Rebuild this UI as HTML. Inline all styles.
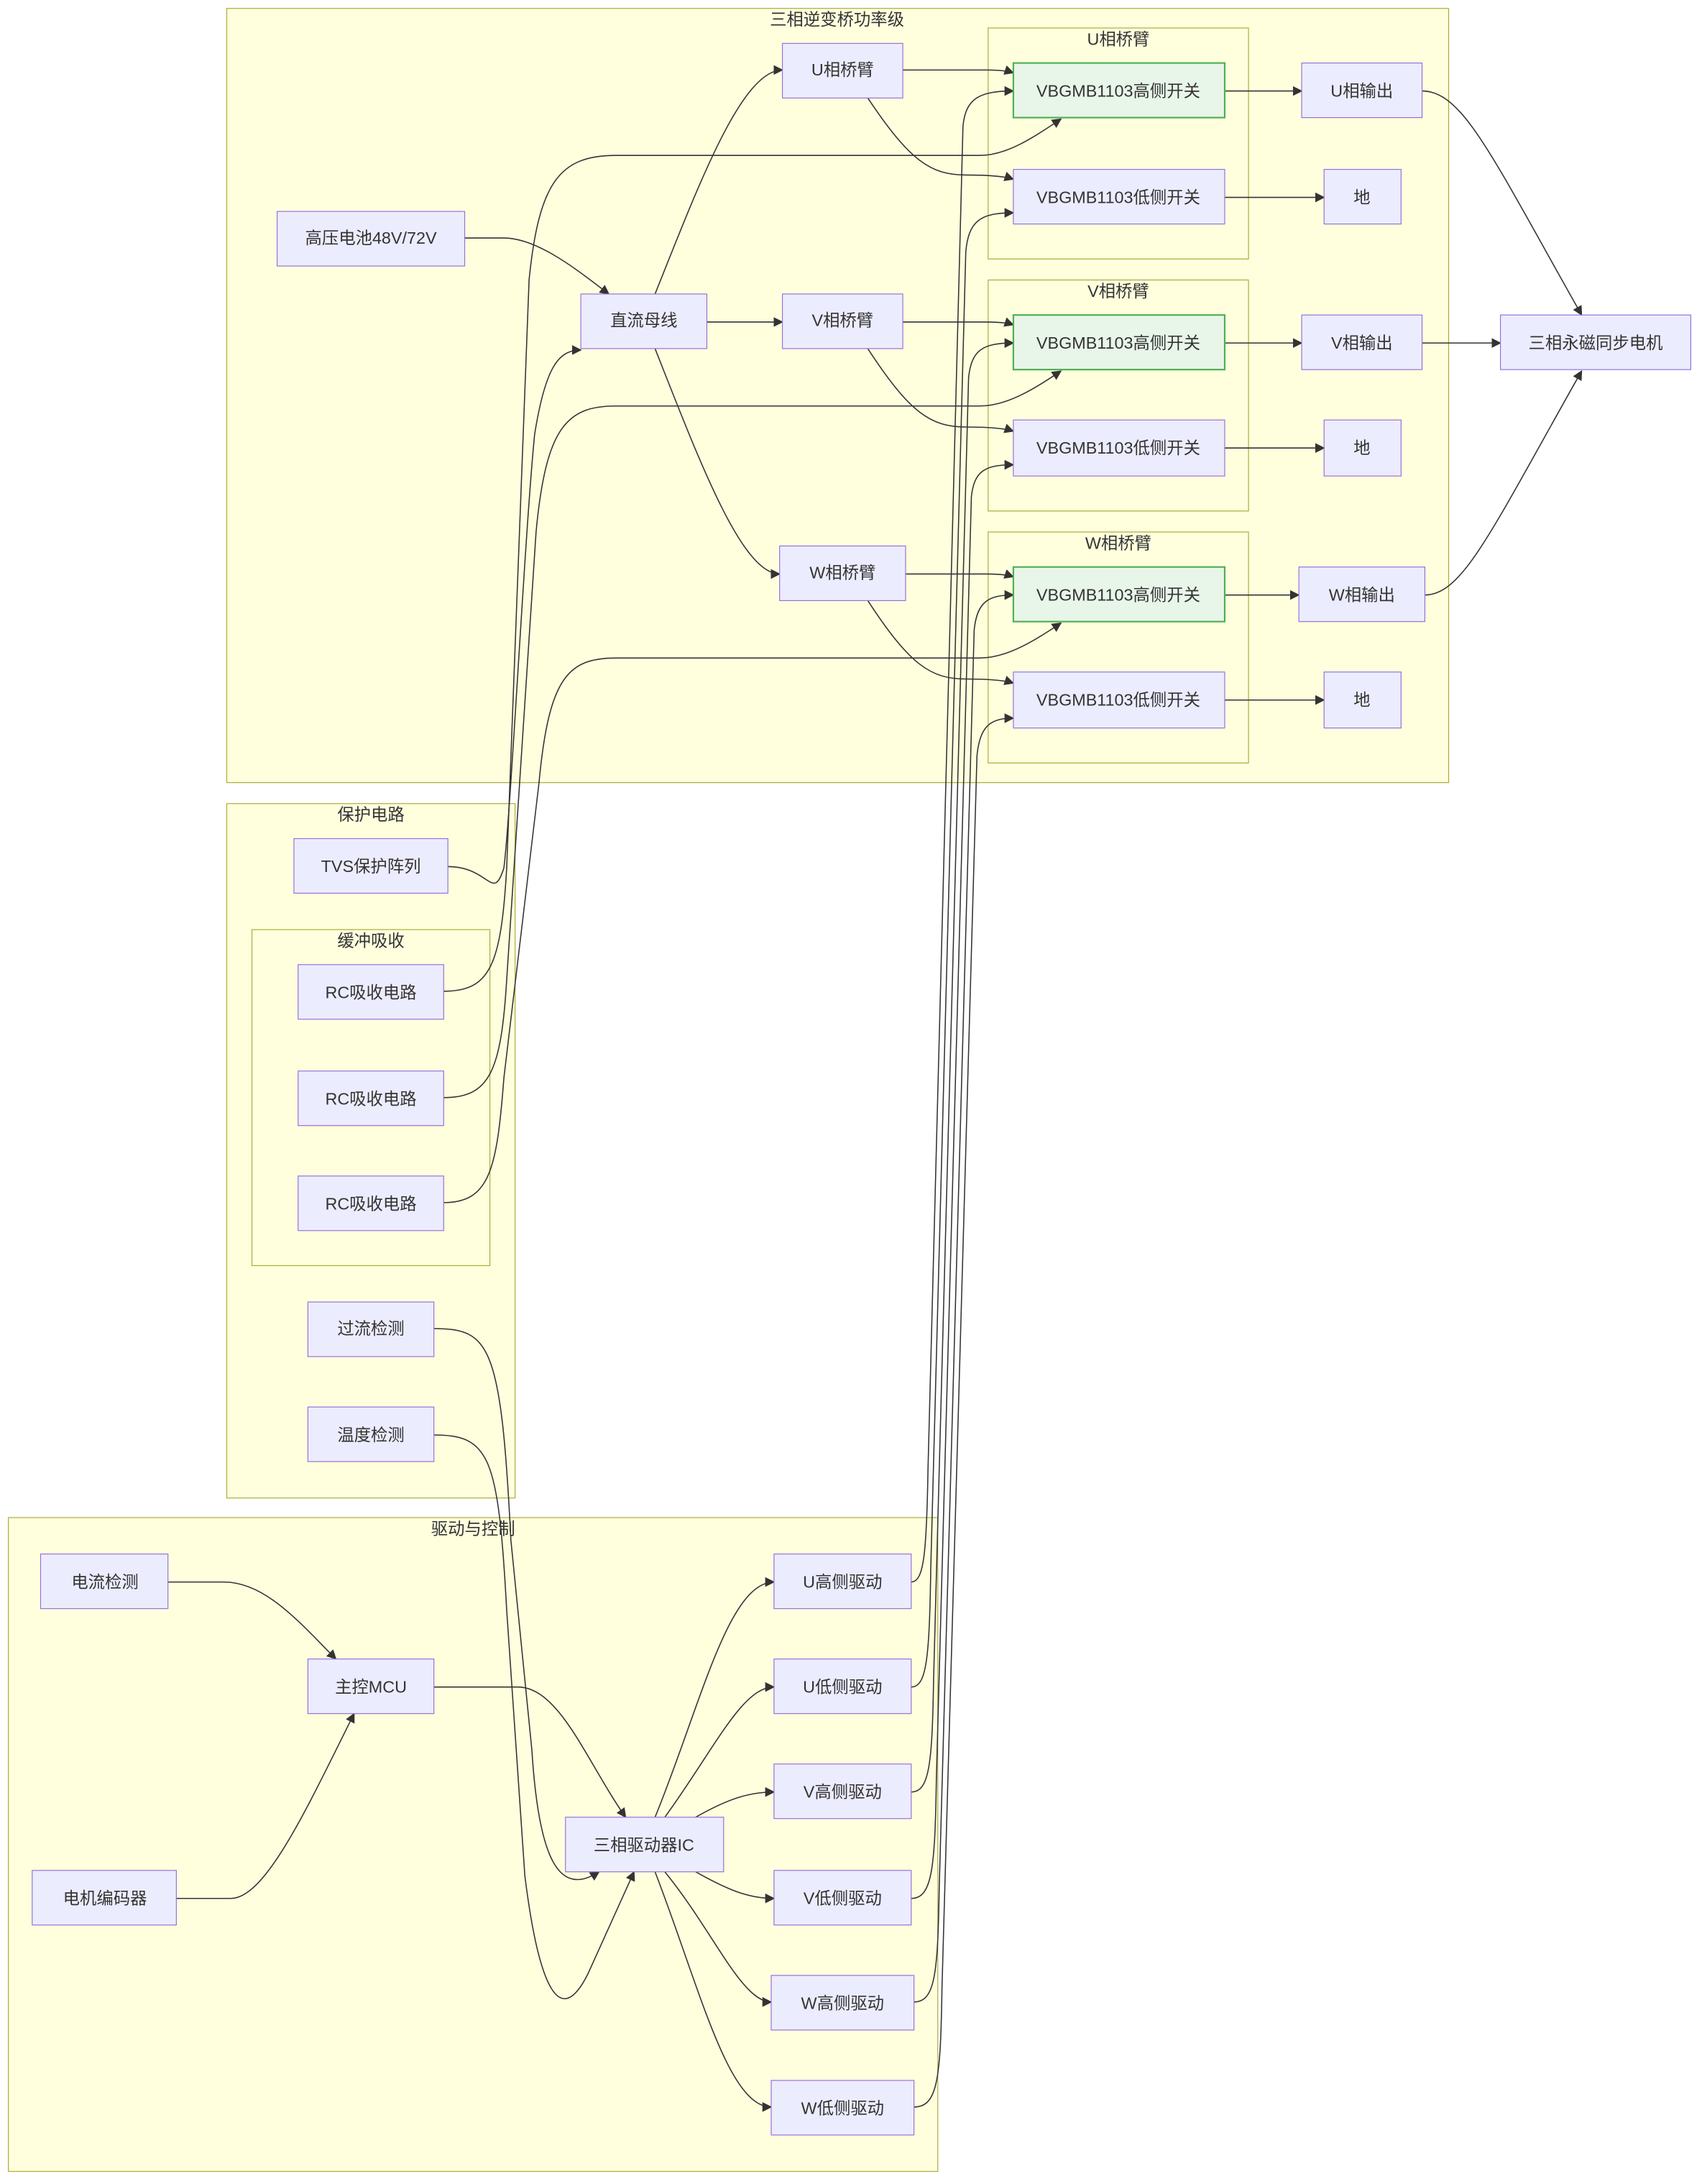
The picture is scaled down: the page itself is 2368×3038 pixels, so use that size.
<!DOCTYPE html>
<html><head><meta charset="utf-8"><style>
html,body{margin:0;padding:0;background:#fff;}
svg{display:block;}
text{font-family:"Liberation Sans","Noto Sans CJK SC",sans-serif;fill:#333;font-size:12px;}
.n{fill:#ECECFF;stroke:#9370DB;stroke-width:0.6;}
.g{fill:#e8f5e9;stroke:#4caf50;stroke-width:1.1;}
.c{fill:#ffffde;stroke:#aaaa33;stroke-width:0.6;}
.e{fill:none;stroke:#333;stroke-width:0.8;marker-end:url(#a);}
</style></head><body>
<svg width="2368" height="3038" viewBox="0 0 1216 1560" preserveAspectRatio="none" xmlns="http://www.w3.org/2000/svg">
<defs><marker id="a" viewBox="0 0 10 10" refX="9" refY="5" markerWidth="7" markerHeight="7" markerUnits="userSpaceOnUse" orient="auto"><path d="M0,0L10,5L0,10z" fill="#333"/></marker></defs>
<!-- clusters -->
<rect class="c" x="162" y="6" width="873" height="553"/>
<text x="598" y="18" text-anchor="middle">三相逆变桥功率级</text>
<rect class="c" x="706" y="20" width="186" height="165"/><text x="799" y="32" text-anchor="middle">U相桥臂</text>
<rect class="c" x="706" y="200" width="186" height="165"/><text x="799" y="212" text-anchor="middle">V相桥臂</text>
<rect class="c" x="706" y="380" width="186" height="165"/><text x="799" y="392" text-anchor="middle">W相桥臂</text>
<rect class="c" x="162" y="574" width="206" height="496"/><text x="265" y="586" text-anchor="middle">保护电路</text>
<rect class="c" x="180" y="664" width="170" height="240"/><text x="265" y="676" text-anchor="middle">缓冲吸收</text>
<rect class="c" x="6" y="1084" width="664" height="467"/><text x="338" y="1096" text-anchor="middle">驱动与控制</text>
<!-- edges -->
<path class="e" d="M332,170 L360,170 C385,170 415,195 435,210"/>
<path class="e" d="M468,210 C500,130 530,50 559,50"/>
<path class="e" d="M505,230 L559,230"/>
<path class="e" d="M468,249 C500,330 530,410 557,410"/>
<path class="e" d="M645,50 L705,50 Q718,50 724,52"/>
<path class="e" d="M620,70 C650,115 665,125 690,125 Q715,125 724,128"/>
<path class="e" d="M645,230 L705,230 Q718,230 724,232"/>
<path class="e" d="M620,249 C650,295 665,305 690,305 Q715,305 724,308"/>
<path class="e" d="M647,410 L705,410 Q718,410 724,412"/>
<path class="e" d="M620,429 C650,475 665,485 690,485 Q715,485 724,488"/>
<path class="e" d="M875,65 L930,65"/><path class="e" d="M875,141 L946,141"/>
<path class="e" d="M875,245 L930,245"/><path class="e" d="M875,320 L946,320"/>
<path class="e" d="M875,425 L928,425"/><path class="e" d="M875,500 L946,500"/>
<path class="e" d="M1016,65 C1045,65 1065,110 1130,225"/>
<path class="e" d="M1016,245 L1072,245"/>
<path class="e" d="M1018,425 C1045,425 1065,380 1130,265"/>
<path class="e" d="M320,619 C350,619 352,645 360,620 C365,580 375,380 382,310 C390,260 400,250 415,250"/>
<path class="e" d="M317,708 C350,708 358,690 362,620 L378,200 C385,130 400,111 440,111 L700,111 C720,111 740,97 758,85"/>
<path class="e" d="M317,784 C350,784 358,765 362,700 L383,380 C390,305 405,290 440,290 L700,290 C720,290 740,277 758,265"/>
<path class="e" d="M317,859 C350,859 355,835 360,770 L385,560 C392,485 405,470 440,470 L700,470 C720,470 740,457 758,445"/>
<path class="e" d="M310,949 C350,949 358,960 365,1100 L380,1250 C385,1330 400,1355 428,1337"/>
<path class="e" d="M310,1025 C350,1025 356,1040 362,1150 L375,1340 C385,1420 400,1450 420,1410 L453,1337"/>
<path class="e" d="M120,1130 L160,1130 C190,1130 215,1160 240,1185"/>
<path class="e" d="M126,1356 L165,1356 C190,1356 220,1290 253,1224"/>
<path class="e" d="M310,1205 L370,1205 C400,1205 420,1260 447,1298"/>
<path class="e" d="M468,1298 C500,1220 520,1130 553,1130"/>
<path class="e" d="M475,1298 C510,1250 530,1205 553,1205"/>
<path class="e" d="M497,1298 C520,1285 535,1280 553,1280"/>
<path class="e" d="M497,1337 C520,1350 535,1356 553,1356"/>
<path class="e" d="M475,1337 C510,1380 530,1430 551,1430"/>
<path class="e" d="M468,1337 C500,1420 520,1505 551,1505"/>
<path class="e" d="M651,1130 C660,1130 662,1110 663,1050 L688,90 C690,70 700,65 724,65"/>
<path class="e" d="M651,1205 C662,1205 664,1185 665,1120 L690,180 C692,158 700,152 724,152"/>
<path class="e" d="M651,1280 C664,1280 666,1260 667,1200 L692,270 C694,250 702,245 724,245"/>
<path class="e" d="M651,1356 C666,1356 668,1335 669,1270 L694,355 C696,336 704,332 724,332"/>
<path class="e" d="M653,1430 C668,1430 670,1410 671,1350 L696,450 C698,430 706,425 724,425"/>
<path class="e" d="M653,1505 C670,1505 672,1485 673,1420 L698,540 C700,518 708,513 724,513"/>
<!-- nodes -->
<g text-anchor="middle">
<rect class="n" x="198" y="151" width="134" height="39"/><text x="265" y="174">高压电池48V/72V</text>
<rect class="n" x="415" y="210" width="90" height="39"/><text x="460" y="233">直流母线</text>
<rect class="n" x="559" y="31" width="86" height="39"/><text x="602" y="54">U相桥臂</text>
<rect class="n" x="559" y="210" width="86" height="39"/><text x="602" y="233">V相桥臂</text>
<rect class="n" x="557" y="390" width="90" height="39"/><text x="602" y="413">W相桥臂</text>
<rect class="g" x="724" y="45" width="151" height="39"/><text x="799" y="69">VBGMB1103高侧开关</text>
<rect class="n" x="724" y="121" width="151" height="39"/><text x="799" y="145">VBGMB1103低侧开关</text>
<rect class="g" x="724" y="225" width="151" height="39"/><text x="799" y="249">VBGMB1103高侧开关</text>
<rect class="n" x="724" y="300" width="151" height="40"/><text x="799" y="324">VBGMB1103低侧开关</text>
<rect class="g" x="724" y="405" width="151" height="39"/><text x="799" y="429">VBGMB1103高侧开关</text>
<rect class="n" x="724" y="480" width="151" height="40"/><text x="799" y="504">VBGMB1103低侧开关</text>
<rect class="n" x="930" y="45" width="86" height="39"/><text x="973" y="69">U相输出</text>
<rect class="n" x="946" y="121" width="55" height="39"/><text x="973" y="145">地</text>
<rect class="n" x="930" y="225" width="86" height="39"/><text x="973" y="249">V相输出</text>
<rect class="n" x="946" y="300" width="55" height="40"/><text x="973" y="324">地</text>
<rect class="n" x="928" y="405" width="90" height="39"/><text x="973" y="429">W相输出</text>
<rect class="n" x="946" y="480" width="55" height="40"/><text x="973" y="504">地</text>
<rect class="n" x="1072" y="225" width="136" height="39"/><text x="1140" y="249">三相永磁同步电机</text>
<rect class="n" x="210" y="599" width="110" height="39"/><text x="265" y="623">TVS保护阵列</text>
<rect class="n" x="213" y="689" width="104" height="39"/><text x="265" y="713">RC吸收电路</text>
<rect class="n" x="213" y="765" width="104" height="39"/><text x="265" y="789">RC吸收电路</text>
<rect class="n" x="213" y="840" width="104" height="39"/><text x="265" y="864">RC吸收电路</text>
<rect class="n" x="220" y="930" width="90" height="39"/><text x="265" y="953">过流检测</text>
<rect class="n" x="220" y="1005" width="90" height="39"/><text x="265" y="1029">温度检测</text>
<rect class="n" x="29" y="1110" width="91" height="39"/><text x="75" y="1134">电流检测</text>
<rect class="n" x="220" y="1185" width="90" height="39"/><text x="265" y="1209">主控MCU</text>
<rect class="n" x="23" y="1336" width="103" height="39"/><text x="75" y="1360">电机编码器</text>
<rect class="n" x="404" y="1298" width="113" height="39"/><text x="460" y="1322">三相驱动器IC</text>
<rect class="n" x="553" y="1110" width="98" height="39"/><text x="602" y="1134">U高侧驱动</text>
<rect class="n" x="553" y="1185" width="98" height="39"/><text x="602" y="1209">U低侧驱动</text>
<rect class="n" x="553" y="1260" width="98" height="39"/><text x="602" y="1284">V高侧驱动</text>
<rect class="n" x="553" y="1336" width="98" height="39"/><text x="602" y="1360">V低侧驱动</text>
<rect class="n" x="551" y="1411" width="102" height="39"/><text x="602" y="1435">W高侧驱动</text>
<rect class="n" x="551" y="1486" width="102" height="39"/><text x="602" y="1510">W低侧驱动</text>
</g>
</svg>
</body></html>
